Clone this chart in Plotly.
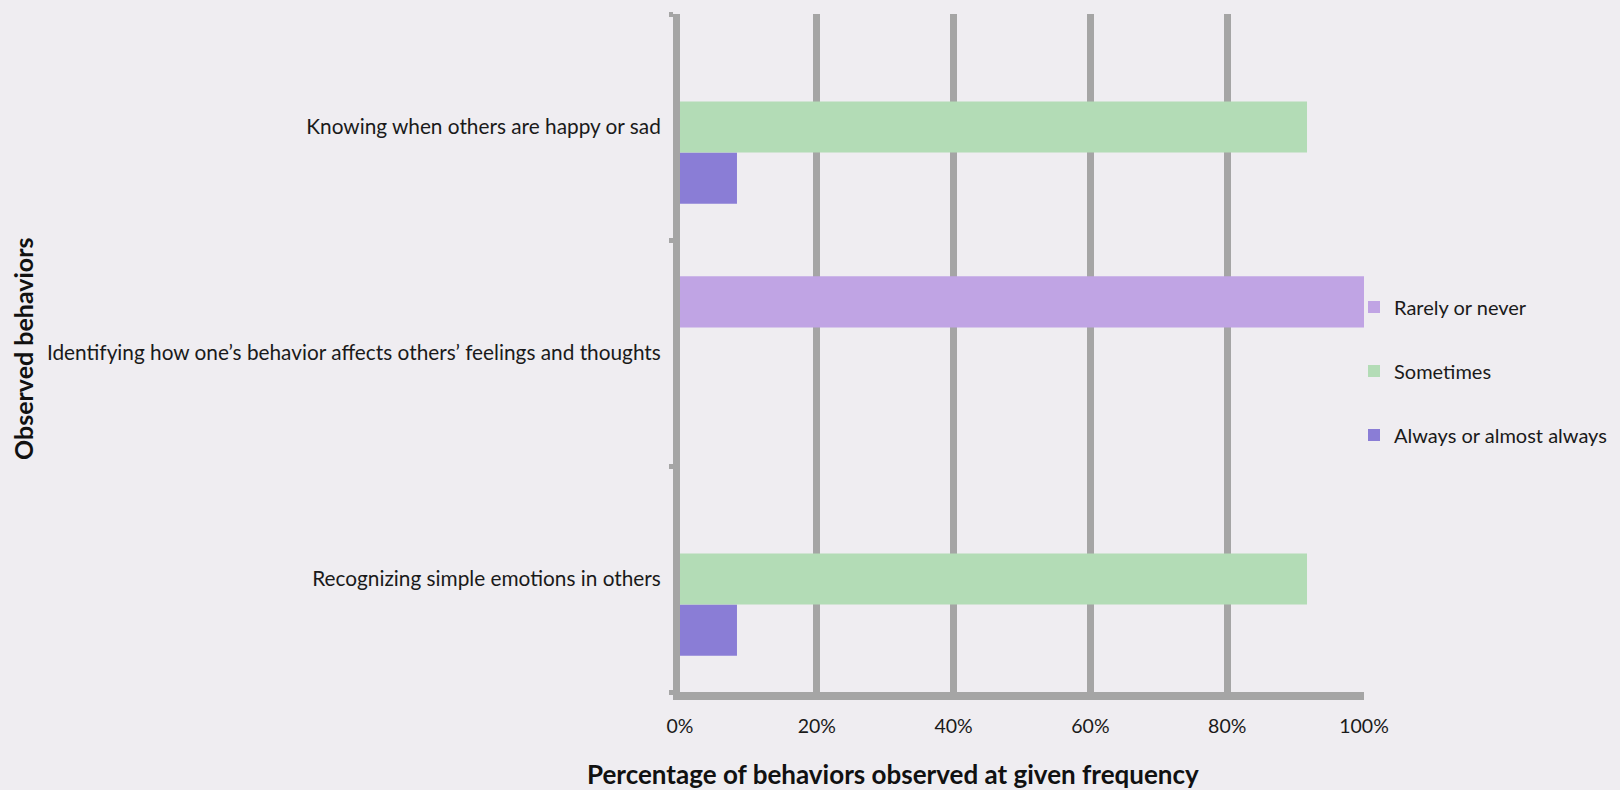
import plotly.graph_objects as go

# Observed behaviors (bottom to top on the chart)
categories = [
    "Recognizing simple emotions in others",
    "Identifying how one’s behavior affects others’ feelings and thoughts",
    "Knowing when others are happy or sad",
]

# Share of observations at each frequency (%)
rarely_or_never = [0, 100, 0]
sometimes = [91.67, 0, 91.67]
always_or_almost = [8.33, 0, 8.33]

x_ticks = [0, 20, 40, 60, 80, 100]
x_tick_labels = ["0%", "20%", "40%", "60%", "80%", "100%"]

FONT = "Lato"
GRID = "#a5a5a5"
BG = "#efedf1"

# (name, values, colour, legend position)
series = [
    ("Always or almost always", always_or_almost, "#8a7dd6", 3),
    ("Sometimes", sometimes, "#b3dcb6", 2),
    ("Rarely or never", rarely_or_never, "#c0a4e4", 1),
]

fig = go.Figure()
for name, vals, color, rank in series:
    fig.add_trace(go.Bar(
        y=categories,
        x=vals,
        name=name,
        orientation="h",
        marker=dict(color=color, line=dict(width=0)),
        legendgroup=name,
        legendrank=rank,
    ))

fig.update_layout(
    width=1620,
    height=790,
    margin=dict(l=680, r=256, t=14, b=98, autoexpand=False),
    paper_bgcolor=BG,
    plot_bgcolor=BG,
    barmode="group",
    bargap=0.32,
    bargroupgap=0,
    font=dict(family=FONT, size=18, color="#1a1a1a"),
    showlegend=True,
    legend=dict(
        traceorder="grouped",
        x=(1354 - 680) / 684,
        xanchor="left",
        y=(692 - 371) / 678,
        yanchor="middle",
        tracegroupgap=35,
        bgcolor="rgba(0,0,0,0)",
        font=dict(family=FONT, size=20, color="#1a1a1a"),
    ),
    xaxis=dict(
        range=[0, 100],
        tickvals=x_ticks,
        ticktext=x_tick_labels,
        showgrid=True,
        gridcolor=GRID,
        gridwidth=7,
        zeroline=False,
        showline=True,
        linecolor=GRID,
        linewidth=8,
        ticks="",
        ticklabelstandoff=10,
        tickfont=dict(family=FONT, size=19.5, color="#1a1a1a"),
    ),
    yaxis=dict(
        type="category",
        categoryorder="array",
        categoryarray=categories,
        range=[-0.5, 2.5],
        showgrid=False,
        zeroline=False,
        showline=True,
        linecolor=GRID,
        linewidth=7,
        ticks="outside",
        tickson="boundaries",
        ticklen=4,
        tickwidth=5,
        tickcolor=GRID,
        ticklabelstandoff=8,
        tickfont=dict(family=FONT, size=20.8, color="#1a1a1a"),
    ),
    annotations=[
        dict(
            text="<b>Percentage of behaviors observed at given frequency</b>",
            xref="paper", yref="paper",
            x=(893 - 680) / 684, y=-(774 - 692) / 678,
            xanchor="center", yanchor="middle",
            showarrow=False,
            font=dict(family=FONT, size=26, color="#111111"),
        ),
        dict(
            text="<b>Observed behaviors</b>",
            xref="paper", yref="paper",
            x=-(680 - 23) / 684, y=(692 - 349) / 678,
            xanchor="center", yanchor="middle",
            textangle=-90,
            showarrow=False,
            font=dict(family=FONT, size=25, color="#111111"),
        ),
    ],
)

fig.write_html("out.html")
